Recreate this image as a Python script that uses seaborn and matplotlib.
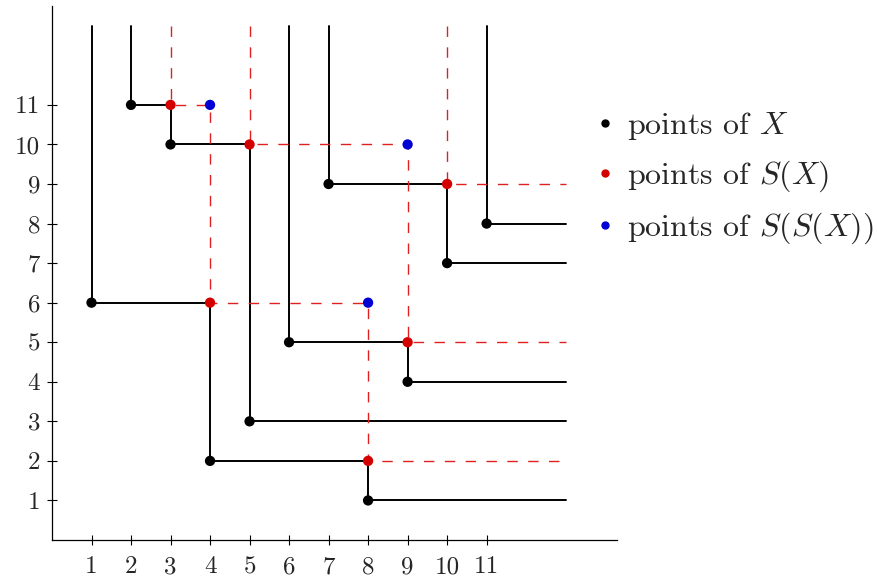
import matplotlib

matplotlib.use("Agg")
import matplotlib.pyplot as plt
import pandas as pd
import seaborn as sns
from matplotlib.lines import Line2D

# points of the permutation X (x = position, y = value)
x_points = [1, 2, 3, 4, 5, 6, 7, 8, 9, 10, 11]
y_points = [6, 11, 10, 2, 3, 5, 9, 1, 4, 7, 8]

# corners of the shadow lines of X
sx_x = [3, 4, 5, 8, 9, 10]
sx_y = [11, 6, 10, 2, 5, 9]

# corners of the shadow lines of S(X)
ssx_x = [4, 8, 9]
ssx_y = [11, 6, 10]

x_ticks = list(range(1, 12))
y_ticks = list(range(1, 12))

TOP = 13
RIGHT = 13
BLACK = "#000000"
RED = "#d40000"
BLUE = "#0000d4"


def shadow_lines(xs, ys):
    # Viennot shadow lines: peel off left-to-right minima repeatedly
    pts = sorted(zip(xs, ys))
    rows = []
    chain_id = 0
    while pts:
        chain, rest = [], []
        low = None
        for px, py in pts:
            if low is None or py < low:
                chain.append((px, py))
                low = py
            else:
                rest.append((px, py))
        path = [(chain[0][0], TOP)]
        for i, (px, py) in enumerate(chain):
            path.append((px, py))
            nxt = chain[i + 1][0] if i + 1 < len(chain) else RIGHT
            path.append((nxt, py))
        for order, (px, py) in enumerate(path):
            rows.append({"chain": chain_id, "order": order, "x": px, "y": py})
        chain_id += 1
        pts = rest
    return pd.DataFrame(rows)


def main():
    sns.set_style("ticks")
    plt.rcParams["font.family"] = "serif"
    plt.rcParams["font.serif"] = ["cmr10", "DejaVu Serif"]
    plt.rcParams["mathtext.fontset"] = "cm"
    plt.rcParams["axes.formatter.use_mathtext"] = True

    fig = plt.figure(figsize=(8.77, 5.81), dpi=100)
    ax = fig.add_axes([52 / 877, 41 / 581, 565 / 877, 534 / 581])

    df_black = shadow_lines(x_points, y_points)
    df_red = shadow_lines(sx_x, sx_y)

    sns.lineplot(
        data=df_black, x="x", y="y", units="chain", estimator=None,
        sort=False, color=BLACK, linewidth=1.4, ax=ax, zorder=2,
    )
    sns.lineplot(
        data=df_red, x="x", y="y", units="chain", estimator=None,
        sort=False, color="#e02020", linewidth=1.0,
        linestyle=(0, (7.5, 7.5)), ax=ax, zorder=3,
    )

    for xs, ys, col in [
        (x_points, y_points, BLACK),
        (sx_x, sx_y, RED),
        (ssx_x, ssx_y, BLUE),
    ]:
        sns.scatterplot(
            x=xs, y=ys, color=col, s=55, edgecolor="none", ax=ax, zorder=4,
        )

    ax.set_xlim(0, 14.3)
    ax.set_ylim(0, 13.5)
    ax.set_xticks(x_ticks)
    ax.set_xticklabels([str(t) for t in x_ticks])
    ax.set_yticks(y_ticks)
    ax.set_yticklabels([str(t) for t in y_ticks])
    ax.set_xlabel("")
    ax.set_ylabel("")
    ax.tick_params(
        direction="inout", length=7, width=0.8, labelsize=18, color=BLACK,
    )
    ax.tick_params(axis="x", pad=8)
    ax.tick_params(axis="y", pad=5)
    sns.despine(ax=ax)
    for side in ["left", "bottom"]:
        ax.spines[side].set_linewidth(0.9)
        ax.spines[side].set_color(BLACK)

    handles = [
        Line2D([], [], marker="o", linestyle="none", color=c, markersize=5)
        for c in [BLACK, RED, BLUE]
    ]
    labels = [r"points of $X$", r"points of $S(X)$", r"points of $S(S(X))$"]
    fig.legend(
        handles, labels, loc="center left",
        bbox_to_anchor=(598 / 877, (581 - 178) / 581),
        frameon=False, fontsize=23, handlelength=0.45, handletextpad=0.45,
        labelspacing=0.52, borderpad=0, borderaxespad=0,
    )

    fig.savefig("out.png", dpi=100)


if __name__ == "__main__":
    main()
